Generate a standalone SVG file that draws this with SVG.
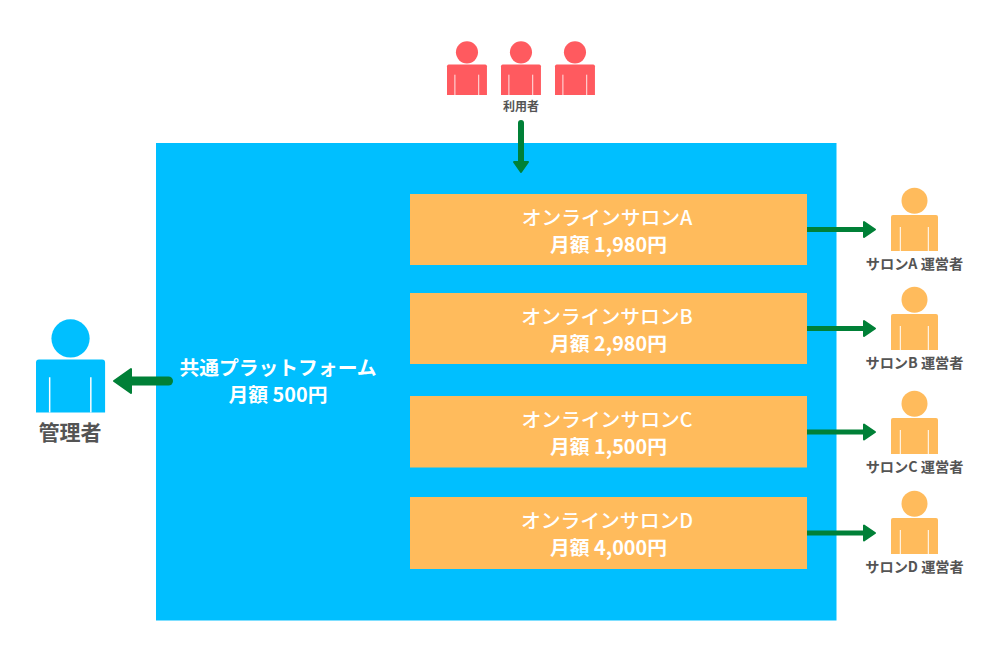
<svg xmlns="http://www.w3.org/2000/svg" width="1000" height="666" viewBox="0 0 1000 666">
<style>
text{font-family:"Noto Sans CJK JP","Noto Sans",sans-serif;font-weight:500;text-anchor:middle}
.w{fill:#fff;font-size:19.8px}
.b{font-weight:700}
.g{fill:#545454;font-weight:700}
.s{font-size:14.2px}
.box{fill:#ffbb5c}
.or{fill:#ffbb5c}.re{fill:#ff5a5f}.bl{fill:#00bfff}
.shaft{stroke:#008037;fill:none}
.head{fill:#008037;stroke:#008037;stroke-width:2;stroke-linejoin:round}
</style>
<defs>
<g id="person">
<circle cx="23.500" cy="-14.300" r="13"/>
<path d="M2 0H45Q47 0 47 2V36H0V2Q0 0 2 0Z"/>
<path d="M9.300 12V36M37.300 12V36" stroke="#fff" stroke-width="1" fill="none"/>
</g>
</defs>
<rect id="platform" x="156" y="143" width="680.500" height="477.500" fill="#00bfff"/>
<g id="platform-label">
<text class="w b" x="278" y="375">共通プラットフォーム</text>
<text class="w b" x="278" y="402">月額 500円</text>
</g>
<g id="salon-a"><rect class="box" x="410" y="194" width="397" height="71"/><text class="w" x="607" y="225">オンラインサロンA</text><text class="w b" x="608.500" y="252">月額 1,980円</text></g>
<g id="salon-b"><rect class="box" x="410" y="293" width="397" height="71"/><text class="w" x="607" y="324">オンラインサロンB</text><text class="w b" x="608.500" y="351">月額 2,980円</text></g>
<g id="salon-c"><rect class="box" x="410" y="396" width="397" height="71.500"/><text class="w" x="607" y="427">オンラインサロンC</text><text class="w b" x="608.500" y="454">月額 1,500円</text></g>
<g id="salon-d"><rect class="box" x="410" y="497" width="397" height="72"/><text class="w" x="607" y="528">オンラインサロンD</text><text class="w b" x="608.500" y="555">月額 4,000円</text></g>
<g id="users">
<use href="#person" class="re" transform="translate(447 64.500) scale(.85)"/>
<use href="#person" class="re" transform="translate(501 64.500) scale(.85)"/>
<use href="#person" class="re" transform="translate(555 64.500) scale(.85)"/>
<text class="g" style="font-size:12px" x="521" y="111">利用者</text>
</g>
<g id="admin">
<use href="#person" class="bl" transform="translate(36 359.500) scale(1.47)"/>
<text class="g" style="font-size:21px" x="70" y="440">管理者</text>
</g>
<g id="op-a"><use href="#person" class="or" transform="translate(891 215)"/><text class="g s" x="914.500" y="269">サロンA 運営者</text></g>
<g id="op-b"><use href="#person" class="or" transform="translate(891 314)"/><text class="g s" x="914.500" y="368">サロンB 運営者</text></g>
<g id="op-c"><use href="#person" class="or" transform="translate(891 418)"/><text class="g s" x="914.500" y="472">サロンC 運営者</text></g>
<g id="op-d"><use href="#person" class="or" transform="translate(891 518)"/><text class="g s" x="914.500" y="572">サロンD 運営者</text></g>
<g id="connectors">
<path class="shaft" d="M521 123V162" stroke-width="6" stroke-linecap="round"/><path class="head" d="M514 162H528L521 172Z"/>
<path class="shaft" d="M168.500 381H130" stroke-width="9" stroke-linecap="round"/><path class="head" d="M131 369V393L114 381Z"/>
<path class="shaft" d="M807 229.500H865" stroke-width="5"/><path class="head" d="M864 222V237L875 229.500Z"/>
<path class="shaft" d="M807 328.500H865" stroke-width="5"/><path class="head" d="M864 321V336L875 328.500Z"/>
<path class="shaft" d="M807 432H865" stroke-width="5"/><path class="head" d="M864 424.500V439.500L875 432Z"/>
<path class="shaft" d="M807 533H865" stroke-width="5"/><path class="head" d="M864 525.500V540.500L875 533Z"/>
</g>
</svg>
